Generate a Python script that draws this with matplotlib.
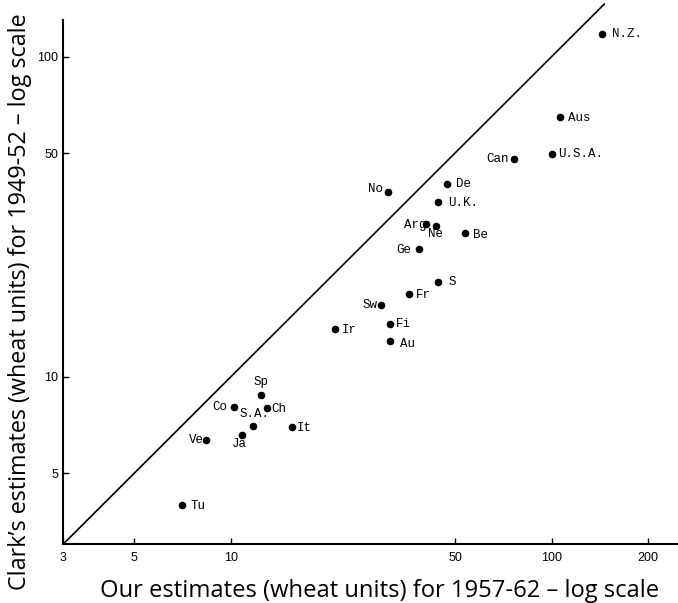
import matplotlib
matplotlib.use("Agg")
import matplotlib.pyplot as plt

# Countries: (our estimate 1957-62, Clark's estimate 1949-52), wheat units
countries = ["N.Z.", "Aus", "U.S.A.", "Can", "No", "De", "U.K.", "Arg", "Ne",
             "Be", "Ge", "S", "Fr", "Sw", "Fi", "Au", "Ir", "Sp", "Co", "Ch",
             "S.A.", "It", "Ja", "Ve", "Tu"]
our_est = [144, 106, 100, 76.4, 31.0, 47.3, 44.1, 40.5, 43.6,
           53.7, 38.7, 44.3, 35.9, 29.4, 31.3, 31.4, 21.1, 12.4, 10.2, 13.0,
           11.7, 15.5, 10.8, 8.34, 7.05]
clark_est = [118, 65, 49.7, 48.0, 37.9, 40.0, 35.2, 30.1, 29.6,
             28.2, 25.1, 19.8, 18.1, 16.7, 14.6, 12.9, 14.1, 8.77, 8.02, 8.0,
             7.03, 6.95, 6.56, 6.34, 3.96]

# label placement (offset in pixels, alignment)
label_pos = {
    "N.Z.": (10, 0, "left"), "Aus": (8, -1, "left"), "U.S.A.": (7, 0, "left"),
    "Can": (-5, 0, "right"), "No": (-5, 3, "right"), "De": (9, 0, "left"),
    "U.K.": (11, -1, "left"), "Arg": (1, -1, "right"), "Ne": (0, -8, "center"),
    "Be": (8, -2, "left"), "Ge": (-8, -1, "right"), "S": (10, 0, "left"),
    "Fr": (7, -1, "left"), "Sw": (-4, 0, "right"), "Fi": (6, 0, "left"),
    "Au": (10, -3, "left"), "Ir": (7, -1, "left"), "Sp": (0, 13, "center"),
    "Co": (-6, 0, "right"), "Ch": (4, -1, "left"), "S.A.": (2, 12, "center"),
    "It": (5, -1, "left"), "Ja": (-2, -9, "center"), "Ve": (-2, 0, "right"),
    "Tu": (8, -1, "left"),
}

x_ticks = [3, 5, 10, 50, 100, 200]
y_ticks = [5, 10, 50, 100]
diag = [3, 146]

fig = plt.figure(figsize=(6.78, 6.03), dpi=100)
ax = fig.add_axes([0.0934, 0.0978, 0.9066, 0.9016])
ax.set_xscale("log")
ax.set_yscale("log")
ax.set_xlim(3, 248)
ax.set_ylim(3, 150)

ax.plot(diag, diag, color="black", lw=1.2)
ax.scatter(our_est, clark_est, s=20, color="black", zorder=3)

for name, x, y in zip(countries, our_est, clark_est):
    dx, dy, ha = label_pos[name]
    ax.annotate(name, (x, y), xytext=(dx, dy), textcoords="offset pixels",
                ha=ha, va="center", fontsize=9, family="Liberation Mono")

ax.spines["top"].set_visible(False)
ax.spines["right"].set_visible(False)
ax.spines["left"].set_bounds(3, 130)
ax.spines["left"].set_linewidth(1.5)
ax.spines["bottom"].set_linewidth(1.5)

ax.set_xticks(x_ticks)
ax.set_xticklabels([str(t) for t in x_ticks])
ax.set_yticks(y_ticks)
ax.set_yticklabels([str(t) for t in y_ticks])
ax.minorticks_off()
ax.tick_params(direction="in", length=4, width=1, labelsize=9, pad=6)
ax.tick_params(axis="y", pad=3.5)
for lab in ax.get_xticklabels() + ax.get_yticklabels():
    lab.set_family("Liberation Sans")

fig.text(0.56, 0.02, "Our estimates (wheat units) for 1957-62 \u2013 log scale",
         ha="center", va="center", fontsize=17.1, family="Open Sans")
fig.text(0.03, 0.499, "Clark\u2019s estimates (wheat units) for 1949-52 \u2013 log scale",
         ha="center", va="center", rotation=90, fontsize=16.8, family="Open Sans")

fig.savefig("out.png", dpi=100)
